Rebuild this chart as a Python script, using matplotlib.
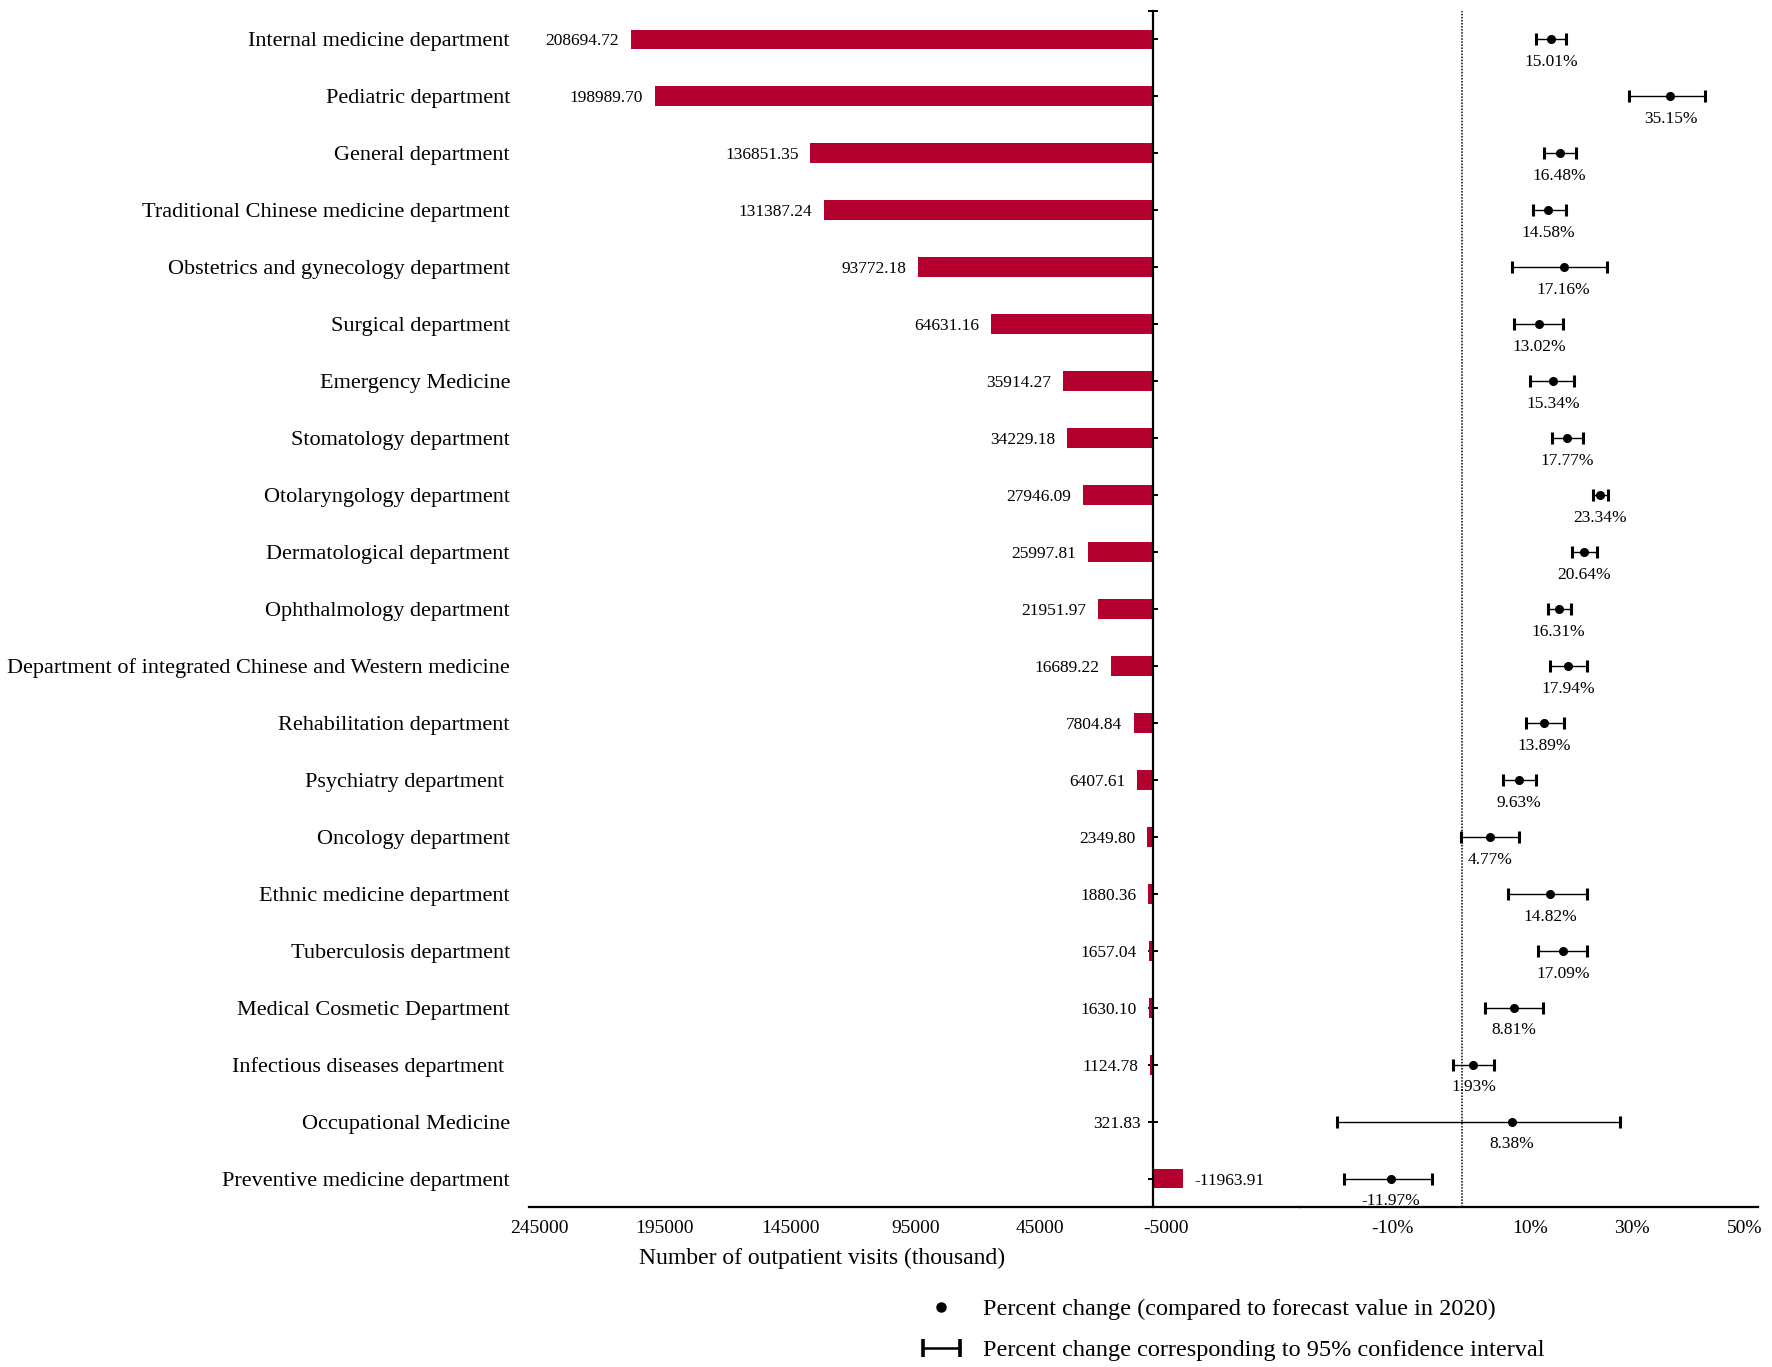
import numpy as np
import matplotlib
matplotlib.use("Agg")
import matplotlib.pyplot as plt
from matplotlib.lines import Line2D
from matplotlib import transforms

plt.rcParams['font.family'] = ['Liberation Serif', 'DejaVu Serif']

# ---------------- data ----------------
departments = [
    "Internal medicine department",
    "Pediatric department",
    "General department",
    "Traditional Chinese medicine department",
    "Obstetrics and gynecology department",
    "Surgical department",
    "Emergency Medicine",
    "Stomatology department",
    "Otolaryngology department",
    "Dermatological department",
    "Ophthalmology department",
    "Department of integrated Chinese and Western medicine",
    "Rehabilitation department",
    "Psychiatry department ",
    "Oncology department",
    "Ethnic medicine department",
    "Tuberculosis department",
    "Medical Cosmetic Department",
    "Infectious diseases department ",
    "Occupational Medicine",
    "Preventive medicine department",
]
visits = [208694.72, 198989.70, 136851.35, 131387.24, 93772.18, 64631.16,
          35914.27, 34229.18, 27946.09, 25997.81, 21951.97, 16689.22,
          7804.84, 6407.61, 2349.80, 1880.36, 1657.04, 1630.10, 1124.78,
          321.83, -11963.91]
pct_change = [15.01, 35.15, 16.48, 14.58, 17.16, 13.02, 15.34, 17.77, 23.34,
              20.64, 16.31, 17.94, 13.89, 9.63, 4.77, 14.82, 17.09, 8.81,
              1.93, 8.38, -11.97]
ci_low = [12.4, 28.2, 13.8, 11.9, 8.4, 8.8, 11.4, 15.2, 22.1, 18.5, 14.5,
          14.9, 10.75, 6.97, -0.17, 7.8, 12.9, 3.8, -1.5, -21.1, -19.8]
ci_high = [17.6, 41.0, 19.2, 17.5, 24.4, 17.0, 18.9, 20.4, 24.6, 22.7, 18.3,
           21.1, 17.2, 12.5, 9.6, 21.1, 21.1, 13.7, 5.4, 26.7, -5.0]

left_ticks = [245000, 195000, 145000, 95000, 45000, -5000]
left_ticklabels = ["245000", "195000", "145000", "95000", "45000", "-5000"]
right_ticks = [-11.8, 11.5, 28.7, 47.7]
right_ticklabels = ["-10%", "10%", "30%", "50%"]

xlabel = "Number of outpatient visits (thousand)"
legend_dot = "Percent change (compared to forecast value in 2020)"
legend_ci = "Percent change corresponding to 95% confidence interval"

# ---------------- layout ----------------
W, H = 1772, 1367
fig = plt.figure(figsize=(W / 100, H / 100), dpi=100)
fig.patch.set_facecolor("white")

ax_top, ax_bot = 11, 1207
split = 1300
ax1 = fig.add_axes([529 / W, 1 - ax_bot / H, (split - 529) / W, (ax_bot - ax_top) / H])
ax2 = fig.add_axes([split / W, 1 - ax_bot / H, (1758 - split) / W, (ax_bot - ax_top) / H])

n = len(departments)
y = np.arange(n)
bar_color = "#B4002F"

# ---------------- left panel: bars ----------------
ax1.barh(y, visits, height=0.35, color=bar_color, zorder=2)
ax1.set_xlim(249300, -58700)
ax1.set_ylim(n - 0.5, -0.5)

for yi, v in zip(y, visits):
    if v >= 0:
        ax1.annotate(f"{v:.2f}", (v, yi), xytext=(-8.5, 0), textcoords="offset points",
                     ha="right", va="center_baseline", fontsize=12.5)
    else:
        ax1.annotate(f"{v:.2f}", (v, yi), xytext=(8, 0), textcoords="offset points",
                     ha="left", va="center_baseline", fontsize=12.5)

for s in ["top", "right"]:
    ax1.spines[s].set_visible(False)
ax1.spines["left"].set_position(("data", 0))
ax1.spines["left"].set_linewidth(1.6)
ax1.spines["bottom"].set_linewidth(1.6)
ax1.spines["left"].set_zorder(3)

ax1.set_yticks(list(y) + [-0.5])
ax1.tick_params(axis="y", direction="inout", length=7, width=1.4, labelleft=False)
ax1.set_xticks(left_ticks)
ax1.set_xticklabels(left_ticklabels, fontsize=14)
ax1.tick_params(axis="x", length=0, pad=9.5)

label_tr = transforms.blended_transform_factory(fig.transFigure, ax1.transData)
for yi, name in zip(y, departments):
    ax1.text(510 / W, yi, name, transform=label_tr, ha="right",
             va="center_baseline", fontsize=16)

# ---------------- right panel: forest ----------------
pc = np.array(pct_change)
lo = np.array(ci_low)
hi = np.array(ci_high)
ax2.errorbar(pc, y, xerr=[pc - lo, hi - pc], fmt="o", color="black", ms=5.5,
             elinewidth=1.0, capsize=4, capthick=2.2, zorder=3)
ax2.axvline(0, color="black", lw=1.1, linestyle=(0, (1, 1)), zorder=1)
ax2.set_xlim(-27.3, 49.9)
ax2.set_ylim(n - 0.5, -0.5)
for yi, v in zip(y, pct_change):
    ax2.annotate(f"{v:.2f}%", (v, yi), xytext=(0, -15), textcoords="offset points",
                 ha="center", va="center_baseline", fontsize=12.5)

for s in ["top", "right", "left"]:
    ax2.spines[s].set_visible(False)
ax2.spines["bottom"].set_linewidth(1.6)
ax2.set_yticks([])
ax2.set_xticks(right_ticks)
ax2.set_xticklabels(right_ticklabels, fontsize=14)
ax2.tick_params(axis="x", length=0, pad=9.5)

# ---------------- axis title ----------------
fig.text(822 / W, 1 - 1258 / H, xlabel, ha="center", va="center", fontsize=17)

# ---------------- legend ----------------
fig.add_artist(Line2D([941 / W], [1 - 1307 / H], marker="o", ms=6.5, color="black",
                      linestyle="none", transform=fig.transFigure))
fig.text(983 / W, 1 - 1307 / H, legend_dot, ha="left", va="center_baseline", fontsize=17.5)
fig.add_artist(Line2D([923 / W, 960 / W], [1 - 1348 / H, 1 - 1348 / H], marker="|",
                      ms=13, mew=2.6, lw=1.8, color="black", transform=fig.transFigure))
fig.text(983 / W, 1 - 1348 / H, legend_ci, ha="left", va="center_baseline", fontsize=17.5)

fig.savefig("out.png", dpi=100)
